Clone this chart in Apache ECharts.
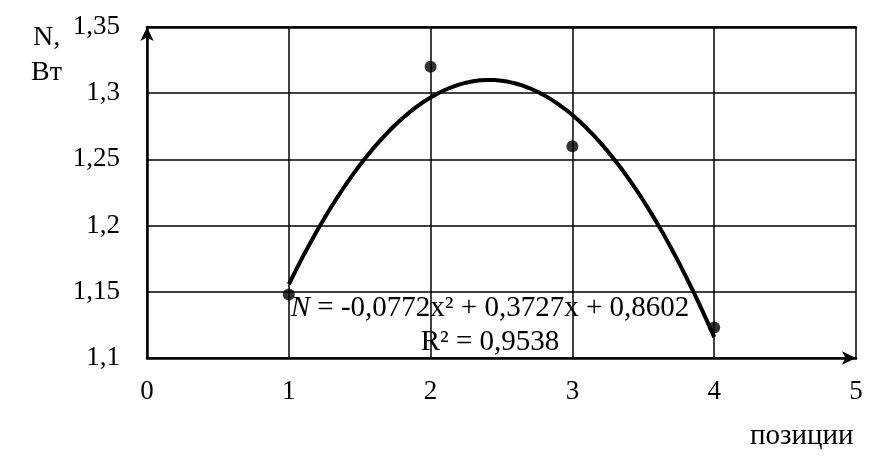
<!DOCTYPE html>
<html>
<head>
<meta charset="utf-8">
<script src="https://cdn.jsdelivr.net/npm/echarts@6/dist/echarts.min.js"></script>
<style>
  html, body { margin: 0; padding: 0; background: #fff; }
  #main { width: 886px; height: 473px; }
</style>
</head>
<body>
<div id="main"></div>
<script>
// measured points
var positions = [1, 2, 3, 4];
var powerValues = [1.148, 1.32, 1.26, 1.123];
// trendline coefficients as printed on the chart: a*x^2 + b*x + c
var trendCoef = [-0.0772, 0.3727, 0.8602];
var r2Text = 'R² = 0,9538';
var xTicks = [0, 1, 2, 3, 4, 5];
var yTicks = [1.1, 1.15, 1.2, 1.25, 1.3, 1.35];

var fontFam = '"Liberation Serif", "Times New Roman", serif';

var scatterData = positions.map(function (x, i) { return [x, powerValues[i]]; });

// trendline drawn from the printed equation, between first and last position
var trendData = [];
for (var x = positions[0]; x <= positions[positions.length - 1] + 1e-9; x += 0.05) {
    trendData.push([x, trendCoef[0] * x * x + trendCoef[1] * x + trendCoef[2]]);
}

var myChart = echarts.init(document.getElementById('main'));

var option = {
    backgroundColor: '#fff',
    animation: false,
    textStyle: { fontFamily: fontFam },
    grid: { left: 147, right: 30, top: 27, bottom: 115 },
    xAxis: [
        {
            type: 'value',
            min: xTicks[0],
            max: xTicks[xTicks.length - 1],
            interval: 1,
            axisLine: { show: true, lineStyle: { color: '#000', width: 2.5 }, symbol: ['none', 'arrow'], symbolSize: [10, 14] },
            axisTick: { show: false },
            axisLabel: { color: '#000', fontSize: 27, fontFamily: fontFam, margin: 20 },
            splitLine: { show: true, lineStyle: { color: '#000', width: 1.5 } }
        },
        {
            type: 'value',
            position: 'top',
            min: 0, max: 5,
            axisLine: { show: true, onZero: false, lineStyle: { color: '#000', width: 2.5 } },
            axisTick: { show: false },
            axisLabel: { show: false },
            splitLine: { show: false }
        }
    ],
    yAxis: {
        type: 'value',
        min: yTicks[0],
        max: yTicks[yTicks.length - 1],
        interval: 0.05,
        axisLine: { show: true, lineStyle: { color: '#000', width: 2.5 }, symbol: ['none', 'arrow'], symbolSize: [10, 14] },
        axisTick: { show: false },
        axisLabel: {
            color: '#000', fontSize: 27, fontFamily: fontFam, margin: 27,
            formatter: function (v) { return String(+v.toFixed(2)).replace('.', ','); }
        },
        splitLine: { show: true, lineStyle: { color: '#000', width: 1.5 } }
    },
    series: [
        {
            type: 'line',
            data: trendData,
            showSymbol: false,
            smooth: false,
            lineStyle: { color: '#000', width: 4 },
            z: 3
        },
        {
            type: 'scatter',
            data: scatterData,
            symbol: 'circle',
            symbolSize: 12,
            itemStyle: { color: '#000' },
            z: 4
        }
    ],
    graphic: [
        { type: 'text', x: 33, y: 38, style: { text: 'N,', fontSize: 28, fontFamily: fontFam, fill: '#000', verticalAlign: 'middle' } },
        { type: 'text', x: 31, y: 73, style: { text: 'Вт', fontSize: 28, fontFamily: fontFam, fill: '#000', verticalAlign: 'middle' } },
        { type: 'text', x: 750, y: 436, style: { text: 'позиции', fontSize: 29, fontFamily: fontFam, fill: '#000', verticalAlign: 'middle' } },
        {
            type: 'text', x: 490, y: 308, z: 10,
            style: {
                text: '{i|N} = -0,0772x² + 0,3727x + 0,8602',
                rich: { i: { fontStyle: 'italic', fontSize: 29, fontFamily: fontFam } },
                fontSize: 29, fontFamily: fontFam, fill: '#000',
                align: 'center', verticalAlign: 'middle'
            }
        },
        {
            type: 'text', x: 490, y: 342, z: 10,
            style: {
                text: r2Text, fontSize: 29, fontFamily: fontFam, fill: '#000',
                align: 'center', verticalAlign: 'middle'
            }
        }
    ]
};

myChart.setOption(option);
</script>
</body>
</html>
